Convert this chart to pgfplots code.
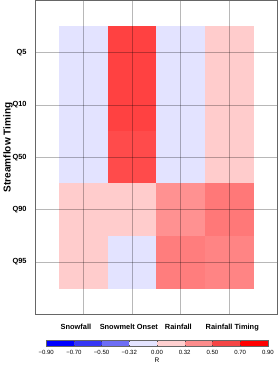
\documentclass[border=0pt]{standalone}
\usepackage{fontspec}
\setmainfont{Liberation Sans}
\usepackage{pgfplots}
\pgfplotsset{compat=1.18}
\definecolor{cbA}{RGB}{0,0,255}
\definecolor{cbB}{RGB}{55,55,245}
\definecolor{cbC}{RGB}{110,110,245}
\definecolor{cbD}{RGB}{228,228,255}
\definecolor{cbE}{RGB}{255,208,208}
\definecolor{cbF}{RGB}{252,140,140}
\definecolor{cbG}{RGB}{245,70,70}
\definecolor{cbH}{RGB}{255,0,0}
\begin{document}
\begin{tikzpicture}
\begin{axis}[
  width=242pt, height=313pt, scale only axis,
  xmin=0, xmax=5, ymin=0, ymax=6, y dir=reverse,
  xtick={0.84,1.93,2.95,4.06},
  xticklabels={Snowfall, Snowmelt Onset, Rainfall, Rainfall Timing},
  minor xtick={1,2,3,4},
  ytick={1,2,3,4,5},
  yticklabels={Q5,Q10,Q50,Q90,Q95},
  xminorgrids=true, ymajorgrids=true, xmajorgrids=false,
  grid style={black, opacity=0.28, line width=0.6pt},
  minor grid style={black, opacity=0.28, line width=0.6pt},
  major tick length=0pt, minor tick length=0pt,
  axis on top,
  axis line style={black!60, line width=0.8pt},
  /pgf/number format/assume math mode=true,
  ticklabel style={font=\fontsize{7.4}{9}\selectfont\bfseries},
  xticklabel style={yshift=-6pt},
  yticklabel style={xshift=-5pt},
  ylabel={Streamflow Timing},
  every axis y label/.style={at={(axis description cs:0,0.5)}, xshift=-27pt, yshift=10pt, rotate=90, anchor=center, font=\fontsize{10}{12}\selectfont\bfseries},
  colormap={bwr}{rgb255(0cm)=(0,0,255); rgb255(1cm)=(255,255,255); rgb255(2cm)=(255,0,0)},
  point meta min=-0.9, point meta max=0.9,
]
\addplot[matrix plot*, mesh/cols=4, point meta=explicit] table[meta=c] {
x y c
1 1 -0.1
2 1 0.67
3 1 -0.1
4 1 0.18
1 2 -0.1
2 2 0.67
3 2 -0.1
4 2 0.18
1 3 -0.1
2 3 0.635
3 3 -0.1
4 3 0.18
1 4 0.18
2 4 0.18
3 4 0.39
4 4 0.477
1 5 0.18
2 5 -0.1
3 5 0.46
4 5 0.434
};
\end{axis}
\begin{axis}[
  at={(11pt,-32pt)}, anchor=south west,
  width=221pt, height=6pt, scale only axis,
  xmin=0, xmax=8, ymin=0, ymax=1,
  xtick={0,1,2,3,4,5,6,7,8},
  xticklabels={−0.90,−0.70,−0.50,−0.32,0.00,0.32,0.50,0.70,0.90},
  ytick=\empty,
  major tick length=1.5pt,
  tick style={black!70},
  axis line style={black!60, line width=0.6pt},
  /pgf/number format/assume math mode=true,
  ticklabel style={font=\fontsize{6}{7}\selectfont},
  xlabel={R},
  xlabel style={font=\fontsize{6.5}{8}\selectfont, yshift=3pt},
  axis on top,
]
\addplot[draw=none, fill=cbA] coordinates {(0,1) (1,1)} \closedcycle;
\addplot[draw=none, fill=cbB] coordinates {(1,1) (2,1)} \closedcycle;
\addplot[draw=none, fill=cbC] coordinates {(2,1) (3,1)} \closedcycle;
\addplot[draw=none, fill=cbD] coordinates {(3,1) (4,1)} \closedcycle;
\addplot[draw=none, fill=cbE] coordinates {(4,1) (5,1)} \closedcycle;
\addplot[draw=none, fill=cbF] coordinates {(5,1) (6,1)} \closedcycle;
\addplot[draw=none, fill=cbG] coordinates {(6,1) (7,1)} \closedcycle;
\addplot[draw=none, fill=cbH] coordinates {(7,1) (8,1)} \closedcycle;
\end{axis}
\end{tikzpicture}
\end{document}
